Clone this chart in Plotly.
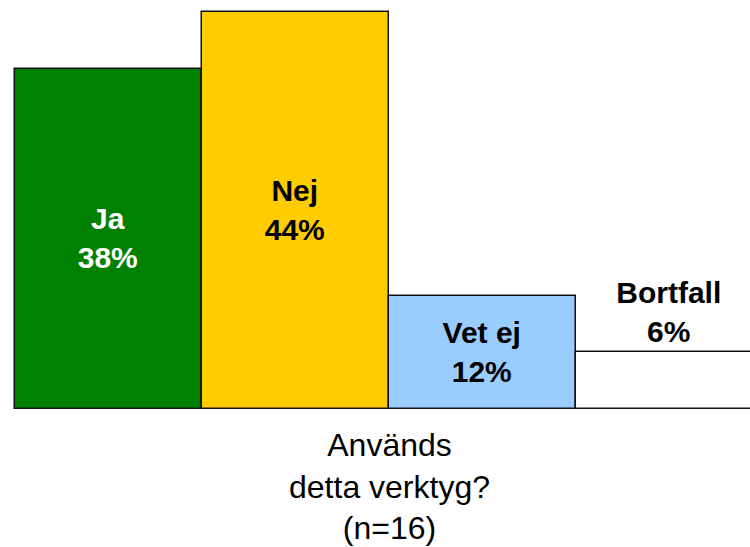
import plotly.graph_objects as go

categories = ["Ja", "Nej", "Vet ej", "Bortfall"]
values = [37.5, 43.75, 12.5, 6.25]
pct_labels = ["38%", "44%", "12%", "6%"]
colors = ["#008000", "#FFCC00", "#99CCFF", "#FFFFFF"]
text_colors = ["#FFFFFF", "#000000", "#000000", "#000000"]
positions = ["inside", "inside", "inside", "outside"]
axis_title = "Används<br>detta verktyg?<br>(n=16)"

x = list(range(len(categories)))
labels = [f"{c}<br>{p}" for c, p in zip(categories, pct_labels)]

fig = go.Figure(go.Bar(
    x=x, y=values, width=1,
    marker=dict(color=colors, line=dict(color="#111111", width=1.5)),
    text=labels, textposition=positions, insidetextanchor="middle",
    textfont=dict(family="Liberation Sans, Arial", size=30, color=text_colors),
    outsidetextfont=dict(family="Liberation Sans, Arial", size=30, color="#000000"),
    cliponaxis=False, constraintext="none",
))
fig.update_traces(texttemplate="<b>%{text}</b>")

fig.add_annotation(
    x=1.5, xref="x", y=-0.19, yref="paper", text=axis_title, showarrow=False,
    yanchor="middle", xanchor="center",
    font=dict(family="Liberation Sans, Arial", size=32, color="#000000"),
)

fig.update_layout(
    width=750, height=547, margin=dict(l=0, r=0, t=0, b=138),
    paper_bgcolor="white", plot_bgcolor="white", showlegend=False, bargap=0,
    xaxis=dict(range=[-0.58, 3.43], showticklabels=False, showgrid=False, zeroline=False, fixedrange=True),
    yaxis=dict(range=[0, 45.07], showticklabels=False, showgrid=False, zeroline=False, fixedrange=True),
)
fig.write_html(
    "out.html",
    config={"displayModeBar": False},
    post_script="document.body.style.margin='0';document.body.style.overflow='hidden';",
)
